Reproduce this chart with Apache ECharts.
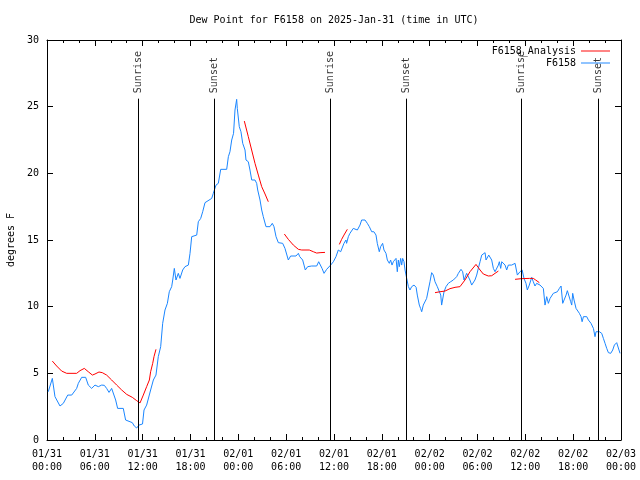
<!DOCTYPE html>
<html>
<head>
<meta charset="utf-8">
<script src="https://cdn.jsdelivr.net/npm/echarts@6/dist/echarts.min.js"></script>
<style>html,body{margin:0;padding:0;background:#fff}#c{width:640px;height:480px}</style>
</head>
<body>
<div id="c"></div>
<script>
// x values are hours since 2025-01-31 00:00 UTC
const xTickLabels = ["01/31\n00:00","01/31\n06:00","01/31\n12:00","01/31\n18:00","02/01\n00:00","02/01\n06:00","02/01\n12:00","02/01\n18:00","02/02\n00:00","02/02\n06:00","02/02\n12:00","02/02\n18:00","02/03\n00:00"];

const obsHours = [0.16,0.67,1.0,1.63,2.05,2.6,3.1,3.72,3.93,4.35,4.85,5.18,5.6,6.02,6.44,6.86,7.19,7.48,7.78,8.11,8.28,8.61,8.86,9.57,9.86,10.41,10.7,10.95,11.25,11.54,11.98,12.17,12.5,12.7,13.0,13.34,13.67,13.96,14.26,14.51,14.8,15.1,15.34,15.64,15.77,15.97,16.18,16.47,16.68,17.02,17.31,17.73,17.94,18.15,18.78,18.98,19.28,19.53,19.82,20.66,20.86,21.2,21.49,21.79,22.54,22.75,22.95,23.17,23.4,23.58,23.79,23.87,24.0,24.12,24.33,24.55,24.84,24.96,25.25,25.46,25.68,26.09,26.3,26.43,26.72,26.93,27.13,27.47,27.97,28.26,28.47,28.73,29.02,29.56,29.85,30.0,30.27,30.56,30.8,31.23,31.53,31.7,32.07,32.24,32.4,32.7,33.2,33.83,34.08,34.33,34.5,34.75,35.08,35.3,35.58,35.92,36.25,36.54,36.84,37.09,37.25,37.5,37.58,37.8,38.0,38.2,38.42,38.63,38.93,39.26,39.47,39.89,40.18,40.43,40.73,41.0,41.27,41.43,41.68,41.85,42.1,42.27,42.52,42.69,42.94,43.1,43.28,43.44,43.65,43.78,43.94,44.07,44.2,44.36,44.49,44.61,44.78,44.91,45.12,45.33,45.53,45.74,46.04,46.3,46.45,46.7,46.86,47.0,47.2,47.42,47.62,47.83,48.04,48.25,48.46,48.67,48.96,49.21,49.39,49.5,49.71,49.8,50.05,50.34,50.63,50.97,51.18,51.39,51.6,51.72,51.93,52.14,52.31,52.43,52.64,52.89,53.05,53.27,53.47,53.68,53.9,54.1,54.32,54.53,54.74,54.95,55.07,55.24,55.41,55.57,55.78,55.99,56.2,56.41,56.62,56.74,56.91,57.04,57.25,57.46,57.66,57.87,58.29,58.71,58.92,59.0,59.17,59.33,59.6,59.83,60.08,60.25,60.5,60.8,61.0,61.21,61.42,61.63,61.84,62.05,62.26,62.47,62.68,62.89,63.1,63.31,63.51,63.72,64.02,64.27,64.48,64.69,64.9,65.11,65.27,65.52,65.69,65.82,65.94,66.11,66.36,66.53,66.78,66.99,67.12,67.29,67.5,67.7,67.91,68.12,68.24,68.45,68.54,68.74,68.87,69.04,69.29,69.58,69.79,70.0,70.21,70.42,70.71,70.96,71.17,71.46,71.67,71.88];
const obsValues = [3.62,4.62,3.25,2.55,2.75,3.37,3.37,3.87,4.25,4.7,4.7,4.12,3.87,4.12,4.0,4.12,4.1,3.87,3.57,3.87,3.75,3.0,2.37,2.37,1.5,1.37,1.3,1.05,0.9,1.12,1.2,2.25,2.62,2.62,3.75,4.5,4.87,6.25,7.0,8.75,9.75,10.25,11.12,11.5,12.0,12.87,12.0,12.5,12.12,12.75,13.0,13.12,14.0,15.25,15.37,16.37,16.62,17.12,17.8,18.12,18.5,19.12,19.25,20.3,20.3,21.25,21.62,22.5,23.0,24.75,25.55,24.87,25.0,23.5,23.12,22.25,21.75,21.0,20.87,20.25,19.5,19.5,19.25,18.75,18.0,17.25,16.75,16.0,16.0,16.25,16.0,15.25,14.8,14.75,14.37,14.25,13.5,13.8,13.75,13.8,14.0,13.75,13.5,13.12,12.75,13.0,13.05,13.05,13.37,13.25,12.87,12.5,12.8,12.87,13.12,13.37,13.75,14.25,14.12,14.12,14.75,15.0,14.75,15.25,15.5,15.37,15.87,15.75,15.75,16.12,16.5,16.5,16.25,16.0,15.62,15.62,15.37,14.75,14.12,14.5,14.75,14.25,14.0,13.5,13.25,13.5,13.12,13.37,13.25,13.62,12.62,13.5,13.0,13.62,13.12,13.62,13.37,12.75,12.12,11.5,11.25,11.5,11.62,11.45,10.87,10.12,9.87,9.62,10.12,10.0,10.62,11.25,11.87,12.55,12.37,11.87,11.5,11.37,10.87,10.12,10.12,11.12,11.5,11.75,11.87,12.0,11.87,12.25,12.5,12.37,12.8,12.62,12.0,11.87,12.5,12.5,12.0,11.62,11.62,12.0,12.37,12.87,13.37,13.87,14.0,14.05,13.5,13.37,13.87,14.0,13.5,12.87,12.62,12.75,13.12,13.37,12.87,13.37,13.5,13.12,12.75,13.12,13.12,13.25,13.25,12.37,12.5,12.62,12.75,12.12,11.75,11.25,11.62,12.2,11.87,11.55,11.75,11.8,11.62,11.62,11.37,10.12,10.75,10.25,10.62,10.5,11.0,10.87,11.12,11.37,11.55,10.25,10.12,10.87,11.2,11.2,10.37,10.12,11.0,10.5,9.87,9.75,9.5,9.25,8.87,9.25,9.12,9.25,9.0,9.12,8.75,8.62,8.37,7.75,8.12,8.25,8.12,8.0,7.62,7.25,6.87,6.55,6.5,6.75,7.12,7.3,7.2,6.5];

// analysis series; null marks a gap between segments
const anaHours = [0.67,1.21,1.84,2.47,3.72,4.14,4.68,5.18,5.69,6.02,6.52,6.94,7.48,8.11,8.74,9.37,10.0,10.7,11.25,11.67,12.08,12.5,12.84,13.0,13.26,13.42,13.67,null,
  24.75,25.25,25.67,26.09,26.51,26.93,27.35,27.76,null,
  29.77,30.27,30.9,31.53,31.95,32.9,33.41,33.83,34.25,34.87,null,
  36.67,36.96,37.25,37.67,null,
  48.67,49.3,49.92,50.55,51.18,51.8,52.43,53.06,53.81,54.32,54.73,55.36,55.78,56.2,56.62,null,
  58.71,59.5,60.5,61.0,61.3,61.76];
const anaValues = [5.92,5.55,5.17,5.0,5.0,5.2,5.37,5.12,4.87,4.95,5.1,5.05,4.87,4.5,4.12,3.75,3.42,3.2,2.95,2.78,3.37,4.0,4.5,5.12,5.75,6.25,6.8,null,
  23.92,22.75,21.75,20.75,19.87,19.0,18.45,17.87,null,
  15.45,15.05,14.62,14.3,14.25,14.25,14.12,14.02,14.05,14.07,null,
  14.67,15.05,15.37,15.8,null,
  11.05,11.12,11.17,11.35,11.45,11.5,12.0,12.62,13.17,12.75,12.45,12.3,12.32,12.5,12.67,null,
  12.05,12.1,12.12,12.12,12.0,11.8];

const eventHours = [11.47,21.0,35.5,45.12,59.5,69.2];
const eventNames = ["Sunrise","Sunset","Sunrise","Sunset","Sunrise","Sunset"];
const eventTop = 25.6;

const FONT = "DejaVu Sans Mono";
const BLUE = '#1a86ff';
const RED = '#ff0000';

const obsData = obsHours.map((h,i)=>[h,obsValues[i]]);
const anaData = anaHours.map((h,i)=> h===null ? [null,null] : [h,anaValues[i]]);
const markLines = eventHours.map(h=>[{coord:[h,0]},{coord:[h,eventTop]}]);
const eventLabelData = eventHours.map((h,i)=>({value:[h,eventTop],name:eventNames[i]}));

const chart = echarts.init(document.getElementById('c'), null, {renderer:'canvas'});
const axisCommon = {
  type:'value', splitLine:{show:false},
  axisLine:{show:true, onZero:false, lineStyle:{color:'#000',width:1}},
  axisTick:{show:true, inside:true, length:6, lineStyle:{color:'#000'}},
};
const lineIcon = 'path://M0,0H30V1H0Z';
chart.setOption({
  animation:false,
  backgroundColor:'#fff',
  title:{text:'Dew Point for F6158 on 2025-Jan-31 (time in UTC)', left:334, top:15, padding:0, textAlign:'center',
    textStyle:{fontFamily:FONT, fontSize:10, fontWeight:'normal', color:'#000'}},
  legend:{data:[{name:'F6158_Analysis', icon:lineIcon, itemStyle:{color:RED}},{name:'F6158', icon:lineIcon, itemStyle:{color:BLUE}}],
    orient:'vertical', right:30, top:46, align:'right', symbolKeepAspect:true,
    itemWidth:29, itemHeight:10, itemGap:2, padding:0,
    textStyle:{fontFamily:FONT, fontSize:10, color:'#000'}},
  grid:{left:47, right:19, top:40, bottom:40, containLabel:false, outerBoundsMode:'none'},
  xAxis:[
    Object.assign({}, axisCommon, {min:0, max:72, interval:6, position:'bottom',
      minorTick:{show:true, splitNumber:3, length:3, lineStyle:{color:'#000'}},
      axisLabel:{fontFamily:FONT, fontSize:10, color:'#000', lineHeight:13, margin:8,
        formatter:v=>xTickLabels[Math.round(v/6)]}}),
    Object.assign({}, axisCommon, {min:0, max:72, interval:6, position:'top',
      minorTick:{show:true, splitNumber:3, length:3, lineStyle:{color:'#000'}},
      axisLabel:{show:false}})
  ],
  yAxis:[
    Object.assign({}, axisCommon, {min:0, max:30, interval:5, position:'left',
      name:'degrees F', nameLocation:'middle', nameRotate:90, nameGap:31,
      nameTextStyle:{fontFamily:FONT, fontSize:10, color:'#000'},
      axisLabel:{fontFamily:FONT, fontSize:10, color:'#000', margin:8}}),
    Object.assign({}, axisCommon, {min:0, max:30, interval:5, position:'right',
      axisLabel:{show:false}})
  ],
  series:[
    {name:'F6158_Analysis', type:'line', data:anaData, symbol:'none', connectNulls:false,
      lineStyle:{color:RED, width:1}, itemStyle:{color:RED}, z:3},
    {name:'F6158', type:'line', data:obsData, symbol:'none',
      lineStyle:{color:BLUE, width:1}, itemStyle:{color:BLUE}, z:2,
      markLine:{silent:true, symbol:'none', label:{show:false},
        lineStyle:{color:'#000', width:1, type:'solid'}, data:markLines}},
    {name:'events', type:'scatter', data:eventLabelData, symbolSize:1,
      itemStyle:{color:'rgba(0,0,0,0)'}, silent:true,
      label:{show:true, formatter:p=>p.name, position:'top', distance:5, rotate:90,
        align:'left', verticalAlign:'middle', fontFamily:FONT, fontSize:10, color:'#000'}}
  ]
});
</script>
</body>
</html>
